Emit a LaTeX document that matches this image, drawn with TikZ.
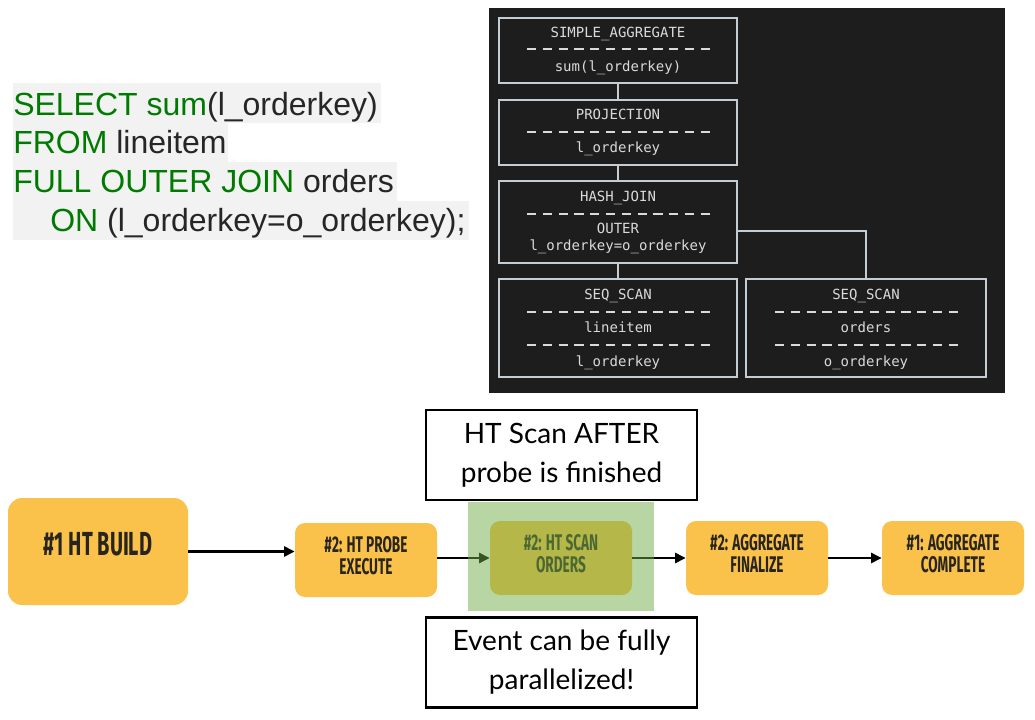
\documentclass[tikz,border=0pt]{standalone}
\usepackage{fontspec}
\setmainfont{Liberation Sans}
\newfontfamily\sqlfont{Liberation Sans}
\newfontfamily\codefont{DejaVu Sans Mono}
\newfontfamily\condfont{Fira Sans}[FakeStretch=0.6]
\newfontfamily\notefont{Lato}
\usetikzlibrary{arrows.meta}
\definecolor{sqlgreen}{RGB}{0,122,0}
\definecolor{sqlink}{RGB}{38,38,38}
\definecolor{sqlbg}{RGB}{242,242,242}
\definecolor{panelbg}{RGB}{29,29,29}
\definecolor{planline}{RGB}{196,204,212}
\definecolor{plantext}{RGB}{218,218,218}
\definecolor{ybox}{RGB}{251,194,75}
\definecolor{yink}{RGB}{40,36,30}
\definecolor{overgreen}{RGB}{112,173,71}
\begin{document}
\begin{tikzpicture}[x=0.75pt,y=-0.75pt,
 sqlline/.style={anchor=base west,inner sep=0pt,font=\sqlfont\fontsize{24}{28}\selectfont,text=sqlink},
 planbox/.style={draw=planline,line width=0.9pt,minimum width=178.5pt,inner sep=0pt},
 plantxt/.style={anchor=base,inner sep=0pt,text=plantext,font=\codefont\fontsize{10.5}{12}\selectfont},
 plandash/.style={draw=plantext,line width=1pt,dash pattern=on 6.9pt off 4.95pt},
 planlink/.style={draw=planline,line width=0.9pt},
 stage/.style={fill=ybox,rounded corners=7.5pt,minimum width=106.5pt,minimum height=55.5pt,inner sep=0pt},
 stagetxt/.style={align=center,text=yink,inner sep=0pt,font=\condfont\bfseries\fontsize{17}{16.5}\selectfont},
 flow/.style={line width=2.1pt,-{Triangle[length=8pt,width=7.5pt]}},
 notebox/.style={draw=black,line width=2.2pt,minimum width=203.25pt,minimum height=67.5pt,align=center,inner sep=0pt,font=\notefont\fontsize{21}{29.25}\selectfont}
]
\path[use as bounding box] (0,0) rectangle (1035,720);

% SQL query
\fill[sqlbg] (13,83) rectangle (381,123);
\fill[sqlbg] (13,123) rectangle (228,162);
\fill[sqlbg] (13,162) rectangle (397,201);
\fill[sqlbg] (13,201) rectangle (469,240);
\node[sqlline] (q1) at (13,116) {{\color{sqlgreen}SELECT sum}(l\_orderkey)};
\node[sqlline] (q2) at (13,154) {{\color{sqlgreen}FROM} lineitem};
\node[sqlline] (q3) at (13,193) {{\color{sqlgreen}FULL OUTER JOIN} orders};
\node[sqlline] (q4) at (50,232) {{\color{sqlgreen}ON} (l\_orderkey=o\_orderkey);};

% Plan panel
\fill[panelbg] (489,8) rectangle (1005,393);
\node[planbox,minimum height=48.75pt] (agg) at (618,50.5) {};
\node[planbox,minimum height=48.75pt] (proj) at (618,132.5) {};
\node[planbox,minimum height=61.5pt] (hj) at (618,222) {};
\node[planbox,minimum height=73.5pt] (scanl) at (618,328) {};
\node[planbox,minimum height=73.5pt,minimum width=180pt] (scanr) at (866,328) {};
\draw[planlink] (agg.south) -- (proj.north);
\draw[planlink] (proj.south) -- (hj.north);
\draw[planlink] (hj.south) -- (scanl.north);
\draw[planlink] ([yshift=-6.75pt]hj.east) -| (scanr.north);

\node[plantxt] (agg1) at (618,38) {SIMPLE\_AGGREGATE};
\draw[plandash] (527,49) -- (712,49);
\node[plantxt] (agg2) at (618,72) {sum(l\_orderkey)};

\node[plantxt] (proj1) at (618,120) {PROJECTION};
\draw[plandash] (527,132) -- (712,132);
\node[plantxt] (proj2) at (618,153) {l\_orderkey};

\node[plantxt] (hj1) at (618,202) {HASH\_JOIN};
\draw[plandash] (527,214) -- (712,214);
\node[plantxt] (hj2) at (618,234) {OUTER};
\node[plantxt] (hj3) at (618,251) {l\_orderkey=o\_orderkey};

\node[plantxt] (sl1) at (618,300) {SEQ\_SCAN};
\draw[plandash] (527,312) -- (712,312);
\node[plantxt] (sl2) at (618,332) {lineitem};
\draw[plandash] (527,345) -- (712,345);
\node[plantxt] (sl3) at (618,366) {l\_orderkey};

\node[plantxt] (sr1) at (866,300) {SEQ\_SCAN};
\draw[plandash] (775,312) -- (960,312);
\node[plantxt] (sr2) at (866,332) {orders};
\draw[plandash] (775,345) -- (960,345);
\node[plantxt] (sr3) at (866,366) {o\_orderkey};

% Pipeline stages
\node[stage,minimum width=135pt,minimum height=80.25pt,rounded corners=10.5pt] (build) at (98,551.5) {};
\node[stagetxt,font=\condfont\bfseries\fontsize{25}{26}\selectfont] (buildt) at (98,544) {\#1 HT BUILD};
\node[stage] (probe) at (366,560) {};
\node[stagetxt] (probet) at (366,555.5) {\#2: HT PROBE\\EXECUTE};
\node[stage] (scan) at (561,558) {};
\node[stagetxt] (scant) at (561,553.5) {\#2: HT SCAN\\ORDERS};
\node[stage] (fin) at (757,558) {};
\node[stagetxt] (fint) at (757,553.5) {\#2: AGGREGATE\\FINALIZE};
\node[stage] (comp) at (953,558) {};
\node[stagetxt] (compt) at (953,553.5) {\#1: AGGREGATE\\COMPLETE};

\draw[flow] (build.east) -- (build.east -| probe.west);
\draw[flow] (probe.east |- scan.west) -- (scan.west);
\draw[flow] (scan.east) -- (fin.west);
\draw[flow] (fin.east) -- (comp.west);

\fill[overgreen,opacity=0.5] (468,502) rectangle (654,611);

\node[notebox] (note1) at (561.5,455) {HT Scan AFTER\\probe is finished};
\node[notebox] (note2) at (561.5,662.5) {Event can be fully\\parallelized!};
\end{tikzpicture}
\end{document}
